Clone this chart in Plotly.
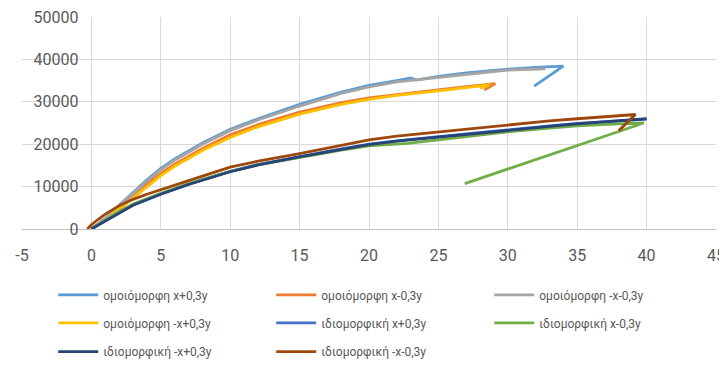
import plotly.graph_objects as go

names = ["ομοιόμορφη x+0,3y", "ομοιόμορφη x-0,3y", "ομοιόμορφη -x-0,3y", "ομοιόμορφη -x+0,3y",
         "ιδιομορφική x+0,3y", "ιδιομορφική x-0,3y", "ιδιομορφική -x+0,3y", "ιδιομορφική -x-0,3y"]
colors = ["#5B9BD5", "#ED7D31", "#A5A5A5", "#FFC000", "#4472C4", "#70AD47", "#264478", "#9E480E"]
legend_rows = ["legend", "legend", "legend", "legend2", "legend2", "legend2", "legend3", "legend3"]

# ομοιόμορφη x+0,3y
u1_x = [0, 1, 2, 3, 4, 5, 6, 8, 10, 12, 15, 18, 20, 22, 23, 23.4, 25, 27, 30, 32, 34, 31.9]
u1_y = [0, 2500, 5600, 8600, 11600, 14300, 16500, 20300, 23500, 26000, 29400, 32300, 33900, 35000, 35600, 35100, 36000, 36800, 37700, 38100, 38400, 33700]
# ομοιόμορφη x-0,3y
u2_x = [0, 1, 2, 3, 4, 5, 6, 8, 10, 12, 15, 18, 20, 22, 25, 27, 29.1, 28.3]
u2_y = [0, 2300, 5000, 7800, 10600, 13100, 15300, 19000, 22200, 24600, 27600, 29800, 30900, 31700, 32900, 33600, 34300, 32800]
# ομοιόμορφη -x-0,3y
u3_x = [0, 1, 2, 3, 4, 5, 6, 8, 10, 12, 15, 18, 20, 22, 25, 27, 30, 32.7]
u3_y = [0, 2400, 5400, 8400, 11300, 14000, 16200, 20000, 23200, 25700, 29000, 32000, 33500, 34700, 35700, 36500, 37500, 37800]
# ομοιόμορφη -x+0,3y
u4_x = [0, 1, 2, 3, 4, 5, 6, 8, 10, 12, 15, 18, 20, 22, 25, 27, 28.7, 28.0]
u4_y = [0, 2100, 4700, 7400, 10100, 12600, 14800, 18500, 21600, 24100, 27100, 29400, 30600, 31500, 32600, 33300, 34000, 33200]
# ιδιομορφική x+0,3y
i1_x = [0, 1, 2, 3, 5, 7, 10, 12, 15, 18, 20, 22, 25, 28, 30, 33, 35, 38, 40]
i1_y = [0, 2000, 4000, 5700, 8300, 10600, 13600, 15200, 17100, 18900, 20000, 20800, 21800, 22800, 23400, 24300, 24900, 25500, 25900]
# ιδιομορφική x-0,3y
i2_x = [0, 1, 2, 3, 5, 7, 10, 12, 15, 18, 20, 22.8, 25, 28, 30, 33, 35, 38, 39.8, 26.9]
i2_y = [0, 2100, 4200, 5900, 8400, 10700, 13600, 15100, 16900, 18600, 19600, 20200, 21000, 22200, 22900, 23800, 24300, 24800, 25000, 10700]
# ιδιομορφική -x+0,3y
i3_x = [0, 1, 2, 3, 5, 7, 10, 12, 15, 18, 20, 22, 25, 28, 30, 33, 35, 38, 40]
i3_y = [0, 1900, 3900, 5600, 8200, 10500, 13500, 15100, 17000, 18800, 19900, 20700, 21700, 22700, 23300, 24200, 24800, 25500, 26000]
# ιδιομορφική -x-0,3y
i4_x = [-0.3, 0, 0.5, 1, 2, 3, 4, 5, 7, 10, 12, 15, 18, 20, 22, 25, 28, 30, 33, 35, 37, 38.5, 39.2, 38.0]
i4_y = [0, 1000, 2300, 3500, 5500, 7000, 8200, 9300, 11400, 14600, 16000, 17800, 19800, 21000, 21900, 22900, 24000, 24600, 25500, 26000, 26500, 26900, 27000, 23200]

xs = [u1_x, u2_x, u3_x, u4_x, i1_x, i2_x, i3_x, i4_x]
ys = [u1_y, u2_y, u3_y, u4_y, i1_y, i2_y, i3_y, i4_y]

x_ticks = [-5, 0, 5, 10, 15, 20, 25, 30, 35, 40, 45]
x_labels = ["-5", "0", "5", "10", "15", "20", "25", "30", "35", "40", "45"]
y_ticks = [0, 10000, 20000, 30000, 40000, 50000]
y_labels = ["0", "10000", "20000", "30000", "40000", "50000"]

fig = go.Figure()
for n, c, x, y, lg in zip(names, colors, xs, ys, legend_rows):
    fig.add_trace(go.Scatter(x=x, y=y, mode="lines", name=n, legend=lg,
                             line=dict(color=c, width=2.8)))

grid = "#D9D9D9"
leg_common = dict(orientation="h", xanchor="left", yanchor="middle",
                  entrywidth=163, entrywidthmode="pixels", itemwidth=40,
                  font=dict(size=12, color="#595959"), bgcolor="rgba(0,0,0,0)")
fig.update_layout(
    width=719, height=361,
    margin=dict(l=14, r=11, t=9, b=140, autoexpand=False),
    paper_bgcolor="white", plot_bgcolor="white",
    font=dict(family="Roboto, sans-serif", color="#595959", size=16),
    xaxis=dict(range=[-5, 45], tickvals=x_ticks, ticktext=x_labels, showgrid=True,
               gridcolor=grid, gridwidth=1, automargin=False, ticklabeloverflow="allow",
               zeroline=True, zerolinecolor=grid, zerolinewidth=1,
               showline=True, linecolor="#BFBFBF", linewidth=1, mirror=False,
               ticks="", ticklabelstandoff=12, tickfont=dict(size=16)),
    yaxis=dict(range=[0, 50000], tickvals=y_ticks, ticktext=y_labels, showgrid=True,
               gridcolor=grid, gridwidth=1, automargin=False, ticklabeloverflow="allow",
               zeroline=False, anchor="free", position=0.1, showline=False,
               ticks="", ticklabelstandoff=13, tickfont=dict(size=16)),
    legend=dict(x=0.045, y=-0.311, **leg_common),
    legend2=dict(x=0.045, y=-0.443, **leg_common),
    legend3=dict(x=0.045, y=-0.578, **leg_common),
    showlegend=True,
)
fig.write_html("out.html")
